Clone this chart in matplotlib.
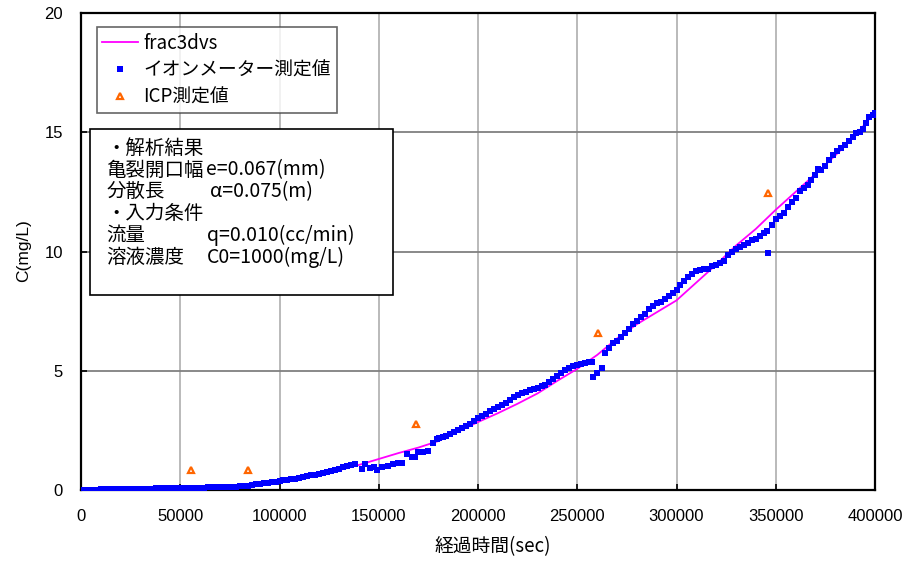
import matplotlib
matplotlib.use("Agg")
import matplotlib.pyplot as plt
from matplotlib.patches import Rectangle

plt.rcParams['font.family'] = ['Liberation Sans', 'Noto Sans CJK JP', 'DejaVu Sans']
JP = ['Noto Sans CJK JP', 'DejaVu Sans']

# Ion meter readings: elapsed time (sec) and concentration (mg/L)
ion_time = [
    0, 2000, 4000, 6000, 8000, 10000, 12000, 14000, 16000, 18000,
    20000, 22000, 24000, 26000, 28000, 30000, 32000, 34000, 36000, 38000,
    40000, 42000, 44000, 46000, 48000, 50000, 52000, 54000, 56000, 58000,
    60000, 62000, 64000, 66000, 68000, 70000, 72000, 74000, 76000, 78000,
    80000, 82000, 84000, 86000, 88000, 90000, 92000, 94000, 96000, 98000,
    100000, 102000, 104000, 106000, 108000, 110000, 112000, 114000, 116000, 118000,
    120000, 122000, 124000, 126000, 128000, 130000, 132000, 134000, 136000, 138000,
    141400, 143000, 145600, 147500, 149000, 151500, 154800, 157400, 159500, 161500,
    164000, 166600, 168300, 169900, 172400, 175000, 177500, 179200, 180500, 182500,
    184000, 186000, 188000, 190000, 192000, 194000, 196000, 198000,
    200000, 202000, 204000, 206000, 208000, 210000, 212000, 214000, 216000, 218000,
    220000, 222000, 224000, 226000, 228000, 230000, 232000, 234000, 236000, 238000,
    240000, 242000, 244000, 246000, 248000, 250000, 252000, 254000, 256000, 257500,
    258100, 260200, 262300, 264000, 266000, 268000, 270000, 272000, 274000, 276000,
    278000, 280000, 282000, 284000, 286000, 288000, 290000, 292000, 294000, 296000,
    298000, 300000, 302000, 304000, 306000, 308000, 310000, 312000, 314000, 316000,
    318000, 320000, 322000, 324000, 326000, 328000, 330000, 332000, 334000, 336000,
    338000, 340000, 342000, 344000, 345500, 346300, 348000, 350000, 352000, 354000,
    356000, 358000, 360000, 362000, 364000, 366000, 368000, 370000, 371500, 373000,
    375000, 377000, 379000, 381000, 383000, 385000, 387000, 389000, 390500, 392500,
    394000, 395500, 397000, 399000, 400000,
]
ion_conc = [
    0.00, 0.01, 0.01, 0.02, 0.02, 0.03, 0.03, 0.03, 0.04, 0.04,
    0.04, 0.05, 0.05, 0.05, 0.05, 0.06, 0.06, 0.06, 0.06, 0.07,
    0.07, 0.07, 0.07, 0.08, 0.08, 0.08, 0.08, 0.09, 0.09, 0.10,
    0.10, 0.10, 0.11, 0.11, 0.12, 0.12, 0.13, 0.13, 0.14, 0.14,
    0.15, 0.15, 0.16, 0.22, 0.24, 0.26, 0.28, 0.30, 0.33, 0.35,
    0.37, 0.40, 0.42, 0.45, 0.48, 0.51, 0.55, 0.58, 0.61, 0.64,
    0.68, 0.72, 0.76, 0.80, 0.85, 0.90, 0.95, 1.00, 1.04, 1.07,
    0.86, 1.10, 0.92, 0.95, 0.85, 0.97, 1.02, 1.09, 1.12, 1.15,
    1.51, 1.40, 1.37, 1.61, 1.58, 1.62, 1.96, 2.14, 2.17, 2.21,
    2.26, 2.33, 2.42, 2.52, 2.60, 2.70, 2.78, 2.90,
    3.02, 3.10, 3.17, 3.30, 3.38, 3.47, 3.55, 3.64, 3.76, 3.88,
    3.98, 4.05, 4.12, 4.18, 4.22, 4.28, 4.34, 4.40, 4.52, 4.65,
    4.78, 4.92, 5.04, 5.13, 5.20, 5.26, 5.30, 5.33, 5.35, 5.36,
    4.74, 4.90, 5.10, 5.76, 5.95, 6.15, 6.25, 6.40, 6.58, 6.74,
    6.95, 7.10, 7.25, 7.40, 7.60, 7.72, 7.84, 7.90, 8.00, 8.15,
    8.28, 8.40, 8.60, 8.78, 8.92, 9.05, 9.20, 9.24, 9.26, 9.28,
    9.40, 9.45, 9.52, 9.62, 9.85, 9.98, 10.10, 10.18, 10.26, 10.35,
    10.47, 10.53, 10.64, 10.76, 10.85, 9.95, 11.12, 11.35, 11.48, 11.62,
    11.85, 12.08, 12.26, 12.55, 12.68, 12.78, 12.98, 13.20, 13.45, 13.40,
    13.58, 13.85, 14.05, 14.20, 14.32, 14.48, 14.62, 14.78, 14.95, 15.02,
    15.14, 15.40, 15.62, 15.74, 15.80,
]

# ICP readings
icp_time = [55400, 84300, 168600, 260300, 346300]
icp_conc = [0.85, 0.85, 2.75, 6.60, 12.45]

# frac3dvs analytical curve
fit_time = [0, 20000, 40000, 60000, 80000, 100000, 120000, 140000, 150000, 160000,
            170000, 180000, 190000, 200000, 210000, 220000, 230000, 240000, 250000,
            260000, 270000, 280000, 290000, 300000, 310000, 320000, 330000, 340000,
            350000, 360000, 370000, 380000, 390000, 400000]
fit_conc = [0.0, 0.03, 0.06, 0.10, 0.17, 0.33, 0.62, 1.05, 1.30, 1.55,
            1.78, 2.05, 2.45, 2.85, 3.22, 3.62, 4.05, 4.58, 5.08,
            5.66, 6.35, 6.95, 7.45, 7.95, 8.70, 9.45, 10.25, 10.95,
            11.75, 12.50, 13.25, 14.03, 14.85, 15.85]

x_ticks = [0, 50000, 100000, 150000, 200000, 250000, 300000, 350000, 400000]
y_ticks = [0, 5, 10, 15, 20]

W, H = 907, 562
fig = plt.figure(figsize=(W / 100, H / 100), dpi=100)
L, R, T, B = 81, 875, 13, 490
ax = fig.add_axes([L / W, 1 - B / H, (R - L) / W, (B - T) / H])


def axf(px, py):
    """pixel position -> axes fraction"""
    return (px - L) / (R - L), (B - py) / (B - T)


ax.set_xlim(0, 400000)
ax.set_ylim(0, 20)
ax.set_xticks(x_ticks)
ax.set_yticks(y_ticks)
ax.set_xticklabels([str(v) for v in x_ticks])
ax.set_yticklabels([str(v) for v in y_ticks])
ax.tick_params(direction='in', length=4, width=1.2, labelsize=12, colors='black')
ax.tick_params(axis='x', pad=14)
ax.tick_params(axis='y', pad=13)
ax.xaxis.grid(True, color='#b4b4b4', linewidth=1.3)
ax.yaxis.grid(True, color='#808080', linewidth=1.3)
ax.set_axisbelow(True)
for s in ax.spines.values():
    s.set_color('black')
    s.set_linewidth(1.6)

line, = ax.plot(fit_time, fit_conc, color='#FF00FF', linewidth=1.3, zorder=3, label='frac3dvs')
ion, = ax.plot(ion_time, ion_conc, linestyle='none', marker='s', markersize=5,
               color='#0000FF', markeredgewidth=0, zorder=4, label='イオンメーター測定値')
icp, = ax.plot(icp_time, icp_conc, linestyle='none', marker='^', markersize=5,
               markerfacecolor='white', markeredgecolor='#FF6600', markeredgewidth=1.6,
               zorder=5, label='ICP測定値')

ax.set_xlabel('経過時間(sec)', family=JP, fontsize=13.5, va='center')
ax.xaxis.set_label_coords(*axf(493, 547))
ax.set_ylabel('C(mg/L)', fontsize=12.5, va='center')
ax.yaxis.set_label_coords(*axf(24, 251))

leg = ax.legend(handles=[line, ion, icp], loc='upper left', bbox_to_anchor=axf(96.7, 27.3),
                prop={'family': JP, 'size': 13.5}, frameon=True, fancybox=False,
                edgecolor='#404040', borderaxespad=0, borderpad=0.3, handlelength=1.9,
                handletextpad=0.3, labelspacing=0.3, markerscale=0.85)
leg.get_frame().set_linewidth(1.2)

# analysis conditions box
x0, y0 = axf(90, 295.3)
x1, y1 = axf(392.7, 129.3)
ax.add_patch(Rectangle((x0, y0), x1 - x0, y1 - y0, transform=ax.transAxes,
                       facecolor='white', edgecolor='black', linewidth=1.2, zorder=6))

labels = ['・解析結果', '亀裂開口幅', '分散長', '・入力条件', '流量', '溶液濃度']
values = ['', 'e=0.067(mm)', 'α=0.075(m)', '', 'q=0.010(cc/min)', 'C0=1000(mg/L)']
rows_py = [148.3, 170, 191.7, 213.3, 235, 257.3]
value_px = [0, 206.0, 210, 0, 206.7, 206.7]
for lab, val, py, vx in zip(labels, values, rows_py, value_px):
    ax.text(*axf(106.5, py), lab, transform=ax.transAxes, family=JP, fontsize=14,
            va='center', ha='left', zorder=7)
    if val:
        ax.text(*axf(vx, py), val, transform=ax.transAxes, family=JP, fontsize=14,
                va='center', ha='left', zorder=7)

fig.savefig('out.png', dpi=100)
